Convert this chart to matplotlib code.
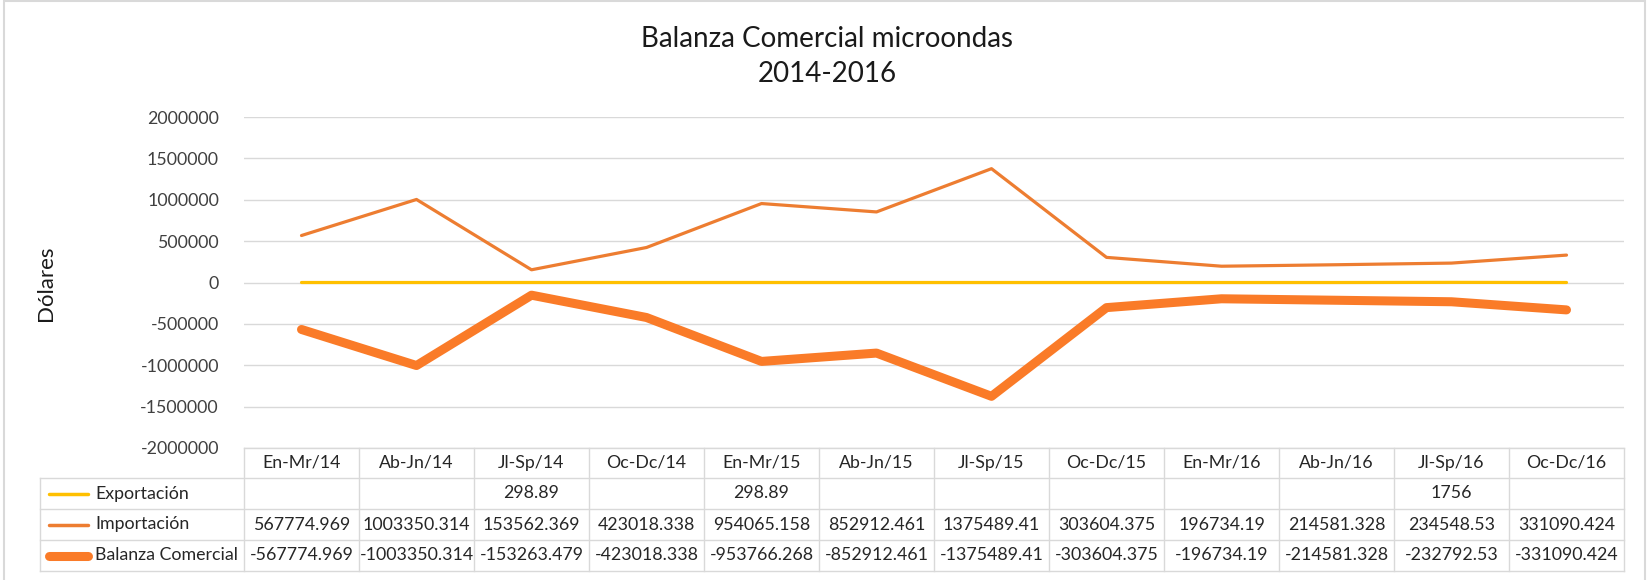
import matplotlib.pyplot as plt
from matplotlib.lines import Line2D
from matplotlib.patches import Rectangle

plt.rcParams['font.family'] = ['Lato', 'DejaVu Sans']

periodos = ["En-Mr/14", "Ab-Jn/14", "Jl-Sp/14", "Oc-Dc/14", "En-Mr/15", "Ab-Jn/15",
            "Jl-Sp/15", "Oc-Dc/15", "En-Mr/16", "Ab-Jn/16", "Jl-Sp/16", "Oc-Dc/16"]
exportacion = [None, None, 298.89, None, 298.89, None, None, None, None, None, 1756, None]
importacion = [567774.969, 1003350.314, 153562.369, 423018.338, 954065.158, 852912.461,
               1375489.41, 303604.375, 196734.19, 214581.328, 234548.53, 331090.424]
balanza = [-567774.969, -1003350.314, -153263.479, -423018.338, -953766.268, -852912.461,
           -1375489.41, -303604.375, -196734.19, -214581.328, -232792.53, -331090.424]
series_nombres = ["Exportación", "Importación", "Balanza Comercial"]
yticks = list(range(-2000000, 2000001, 500000))

colores = ["#FFC000", "#ED7D31", "#FA7B28"]
anchos = [2.3, 2.3, 6.5]

W, H = 1648, 580
fig = plt.figure(figsize=(W / 100, H / 100), dpi=100)

def fx(p):
    return p / W

def fy(p):
    return 1 - p / H

# plot area (pixel coords)
left, right, top, bottom = 244, 1624, 117, 448
ax = fig.add_axes([fx(left), fy(bottom), fx(right - left), (bottom - top) / H])

x = list(range(len(periodos)))
exp_plot = [v if v is not None else 0 for v in exportacion]
for vals, c, lw in zip([exp_plot, importacion, balanza], colores, anchos):
    ax.plot(x, vals, color=c, lw=lw, solid_capstyle='round', solid_joinstyle='round', zorder=3)

ax.set_xlim(-0.5, len(periodos) - 0.5)
ax.set_ylim(-2000000, 2000000)
ax.set_yticks(yticks)
ax.set_yticklabels([str(t) for t in yticks], fontsize=12.8, color="#404040")
ax.tick_params(axis='y', length=0, pad=18)
ax.set_xticks([])
ax.grid(axis='y', color="#D9D9D9", lw=1)
ax.set_axisbelow(True)
for s in ax.spines.values():
    s.set_visible(False)

# title and y label
fig.text(fx(827), fy(39), "Balanza Comercial microondas", ha='center', va='center', fontsize=20, color="#1a1a1a")
fig.text(fx(827), fy(74), "2014-2016", ha='center', va='center', fontsize=20, color="#1a1a1a")
fig.text(fx(46), fy(283), "Dólares", ha='center', va='center', rotation=90, fontsize=16, color="#1a1a1a")

# data table
col_w = (right - left) / len(periodos)
rows_y = [448, 478, 509, 540, 571]
gc = "#D9D9D9"
tl_left = 40
fs_tab = 12.8

def hline(x0, x1, y):
    fig.add_artist(Line2D([fx(x0), fx(x1)], [fy(y), fy(y)], color=gc, lw=1))

def vline(xp, y0, y1):
    fig.add_artist(Line2D([fx(xp), fx(xp)], [fy(y0), fy(y1)], color=gc, lw=1))

hline(left, right, rows_y[0])
for yy in rows_y[1:]:
    hline(tl_left, right, yy)
vline(tl_left, rows_y[1], rows_y[4])
for i in range(len(periodos) + 1):
    vline(left + i * col_w, rows_y[0], rows_y[4])

for i, p in enumerate(periodos):
    fig.text(fx(left + (i + 0.5) * col_w), fy((rows_y[0] + rows_y[1]) / 2), p,
             ha='center', va='center', fontsize=fs_tab, color="#262626")

tabla = [exportacion, importacion, balanza]
for r, (nombre, vals, c, lw) in enumerate(zip(series_nombres, tabla, colores, anchos)):
    yc = (rows_y[r + 1] + rows_y[r + 2]) / 2
    fig.add_artist(Line2D([fx(49), fx(88)], [fy(yc), fy(yc)], color=c, lw=lw if r == 2 else 2.5,
                          solid_capstyle='round'))
    fig.text(fx(95), fy(yc), nombre, ha='left', va='center', fontsize=fs_tab, color="#262626")
    for i, v in enumerate(vals):
        if v is None:
            continue
        txt = "%g" % v if abs(v) < 1e4 else ("%.3f" % v).rstrip('0').rstrip('.')
        fig.text(fx(left + (i + 0.5) * col_w), fy(yc), txt,
                 ha='center', va='center', fontsize=fs_tab, color="#262626")

# outer border
fig.add_artist(Rectangle((fx(4), fy(H + 5)), fx(1645 - 4), (H + 4) / H,
                         fill=False, edgecolor="#D9D9D9", lw=1.5))

fig.savefig("out.png", dpi=100)
